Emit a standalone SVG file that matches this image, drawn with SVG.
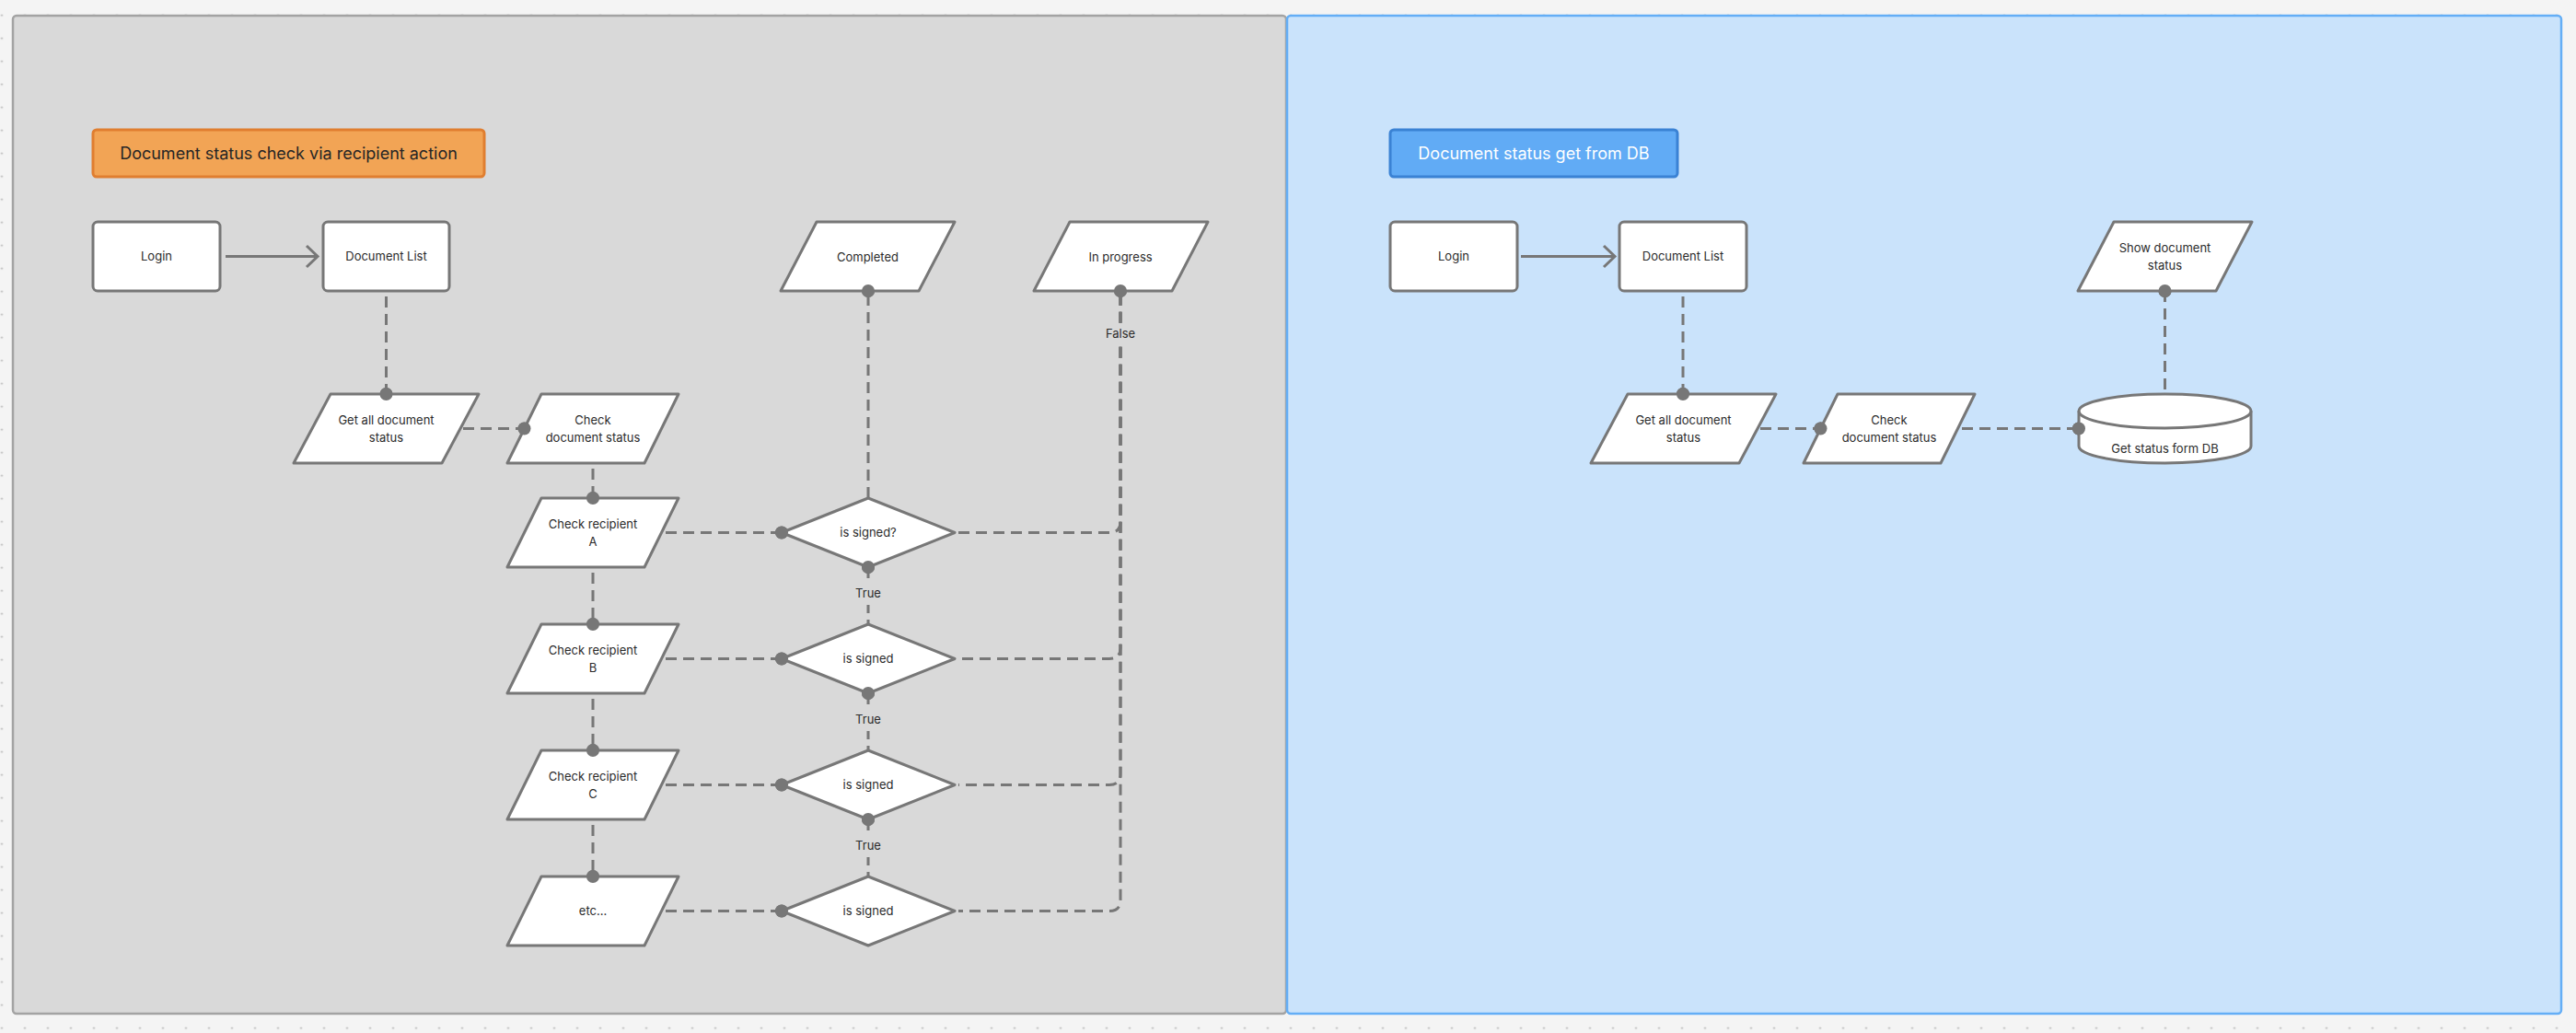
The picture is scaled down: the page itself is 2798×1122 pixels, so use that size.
<svg xmlns="http://www.w3.org/2000/svg" width="2798" height="1122" viewBox="0 0 2798 1122">
<defs>
<pattern id="grid" patternUnits="userSpaceOnUse" x="-10.5" y="4.2" width="25" height="25"><circle cx="12.5" cy="12.5" r="1.1" fill="#b4b4b4"/></pattern>
<style>
.node{fill:#fff;stroke:#777;stroke-width:3;stroke-linejoin:round}
.t{font-family:Inter,"Noto Sans","Liberation Sans",sans-serif;font-size:13px;fill:#2b2b2b;text-anchor:middle}
.c{fill:none;stroke:#777;stroke-width:3}
.d{stroke-dasharray:12 7}
.dot{fill:#777}
.lbl{fill:#d9d9d9}
.title{font-family:Inter,"Noto Sans","Liberation Sans",sans-serif;font-size:18px;text-anchor:middle}
</style>
</defs>
<rect width="2798" height="1122" fill="#f4f4f4"/>
<rect width="2798" height="1122" fill="url(#grid)"/>
<g id="frame-left"><rect x="14" y="17" width="1383" height="1084" rx="4" fill="#d9d9d9" stroke="#a3a3a3" stroke-width="2.5"/></g>
<g id="frame-right"><rect x="1398" y="17" width="1384" height="1084" rx="4" fill="#cae3fb" stroke="#64aef6" stroke-width="2.5"/></g>

<g id="title-left"><rect x="101" y="141" width="425" height="51" rx="4" fill="#f2a455" stroke="#e07e30" stroke-width="3"/><text class="title" x="313.5" y="172.5" fill="#262626">Document status check via recipient action</text></g>
<g id="title-right"><rect x="1510" y="141" width="312" height="51" rx="4" fill="#61abf5" stroke="#3a82d4" stroke-width="3"/><text class="title" x="1666" y="172.5" fill="#ffffff">Document status get from DB</text></g>

<g id="connectors">
<path class="c" d="M245 278.5 H344"/><path class="c" d="M333 267 L345 278.5 L333 290"/>
<path class="c d" d="M419.5 322 V428"/><circle class="dot" cx="419.5" cy="428" r="7"/>
<path class="c d" d="M503 465.5 H569.5"/><circle class="dot" cx="569.5" cy="465.5" r="7"/>
<path class="c d" d="M644 509 V541"/><circle class="dot" cx="644" cy="541" r="7"/>
<path class="c d" d="M644 622 V678"/><circle class="dot" cx="644" cy="678" r="7"/>
<path class="c d" d="M644 759 V815"/><circle class="dot" cx="644" cy="815" r="7"/>
<path class="c d" d="M644 896 V952"/><circle class="dot" cx="644" cy="952" r="7"/>
<path class="c d" d="M723 578.5 H849"/><circle class="dot" cx="849" cy="578.5" r="7"/>
<path class="c d" d="M723 715.5 H849"/><circle class="dot" cx="849" cy="715.5" r="7"/>
<path class="c d" d="M723 852.5 H849"/><circle class="dot" cx="849" cy="852.5" r="7"/>
<path class="c d" d="M723 989.5 H849"/><circle class="dot" cx="849" cy="989.5" r="7"/>
<path class="c d" d="M943 541 V316"/><circle class="dot" cx="943" cy="316" r="7"/>
<path class="c d" d="M943 616 V678"/><circle class="dot" cx="943" cy="616" r="7"/>
<path class="c d" d="M943 753 V815"/><circle class="dot" cx="943" cy="753" r="7"/>
<path class="c d" d="M943 890 V952"/><circle class="dot" cx="943" cy="890" r="7"/>
<path class="c d" d="M1041 578.5 H1205 Q1217 578.5 1217 566.5 V316" stroke-dashoffset="0"/>
<path class="c d" d="M1041 715.5 H1205 Q1217 715.5 1217 703.5 V316" stroke-dashoffset="15"/>
<path class="c d" d="M1041 852.5 H1205 Q1217 852.5 1217 840.5 V316" stroke-dashoffset="11"/>
<path class="c d" d="M1041 989.5 H1205 Q1217 989.5 1217 977.5 V316" stroke-dashoffset="7"/>
<circle class="dot" cx="1217" cy="316" r="7"/>
<rect class="lbl" x="1198" y="352" width="38" height="21"/><text class="t" x="1217" y="367">False</text>
<rect class="lbl" x="925" y="631" width="36" height="26"/><text class="t" x="943" y="649">True</text>
<rect class="lbl" x="925" y="768" width="36" height="26"/><text class="t" x="943" y="786">True</text>
<rect class="lbl" x="925" y="905" width="36" height="26"/><text class="t" x="943" y="923">True</text>

<path class="c" d="M1652 278.5 H1753"/><path class="c" d="M1742 267 L1754 278.5 L1742 290"/>
<path class="c d" d="M1828 322 V428"/><circle class="dot" cx="1828" cy="428" r="7"/>
<path class="c d" d="M1912 465.5 H1977.5"/><circle class="dot" cx="1977.5" cy="465.5" r="7"/>
<path class="c d" d="M2131 465.5 H2258"/><circle class="dot" cx="2258" cy="465.5" r="7"/>
<path class="c d" d="M2351.5 423 V316"/><circle class="dot" cx="2351.5" cy="316" r="7"/>
</g>

<g id="login"><rect class="node" x="101" y="241" width="138" height="75" rx="5"/><text class="t" x="170" y="283">Login</text></g>
<g id="doclist"><rect class="node" x="351" y="241" width="137" height="75" rx="5"/><text class="t" x="419.5" y="283">Document List</text></g>
<g id="getall"><polygon class="node" points="359,428 520,428 480,503 319,503"/><text class="t" x="419.5" y="461">Get all document</text><text class="t" x="419.5" y="480">status</text></g>
<g id="checkdoc"><polygon class="node" points="588,428 737,428 700,503 551,503"/><text class="t" x="644" y="461">Check</text><text class="t" x="644" y="480">document status</text></g>
<g id="recA"><polygon class="node" points="588,541 737,541 700,616 551,616"/><text class="t" x="644" y="574">Check recipient</text><text class="t" x="644" y="593">A</text></g>
<g id="recB"><polygon class="node" points="588,678 737,678 700,753 551,753"/><text class="t" x="644" y="711">Check recipient</text><text class="t" x="644" y="730">B</text></g>
<g id="recC"><polygon class="node" points="588,815 737,815 700,890 551,890"/><text class="t" x="644" y="848">Check recipient</text><text class="t" x="644" y="867">C</text></g>
<g id="etc"><polygon class="node" points="588,952 737,952 700,1027 551,1027"/><text class="t" x="644" y="994">etc...</text></g>
<g id="completed"><polygon class="node" points="887,241 1037,241 998,316 848,316"/><text class="t" x="942.5" y="283.5">Completed</text></g>
<g id="inprogress"><polygon class="node" points="1162,241 1312,241 1273,316 1123,316"/><text class="t" x="1217" y="283.5">In progress</text></g>
<g id="dia1"><polygon class="node" points="943,541 1037,578.5 943,616 849,578.5"/><text class="t" x="943" y="583">is signed?</text></g>
<g id="dia2"><polygon class="node" points="943,678 1037,715.5 943,753 849,715.5"/><text class="t" x="943" y="720">is signed</text></g>
<g id="dia3"><polygon class="node" points="943,815 1037,852.5 943,890 849,852.5"/><text class="t" x="943" y="857">is signed</text></g>
<g id="dia4"><polygon class="node" points="943,952 1037,989.5 943,1027 849,989.5"/><text class="t" x="943" y="994">is signed</text></g>
<g id="dotsfront">
<circle class="dot" cx="419.5" cy="428" r="7"/><circle class="dot" cx="569.5" cy="465.5" r="7"/>
<circle class="dot" cx="644" cy="541" r="7"/><circle class="dot" cx="644" cy="678" r="7"/><circle class="dot" cx="644" cy="815" r="7"/><circle class="dot" cx="644" cy="952" r="7"/>
<circle class="dot" cx="849" cy="578.5" r="7"/><circle class="dot" cx="849" cy="715.5" r="7"/><circle class="dot" cx="849" cy="852.5" r="7"/><circle class="dot" cx="849" cy="989.5" r="7"/>
<circle class="dot" cx="943" cy="316" r="7"/><circle class="dot" cx="943" cy="616" r="7"/><circle class="dot" cx="943" cy="753" r="7"/><circle class="dot" cx="943" cy="890" r="7"/><circle class="dot" cx="1217" cy="316" r="7"/>
<circle class="dot" cx="1828" cy="428" r="7"/><circle class="dot" cx="1977.5" cy="465.5" r="7"/><circle class="dot" cx="2258" cy="465.5" r="7"/><circle class="dot" cx="2351.5" cy="316" r="7"/>
</g>

<g id="login2"><rect class="node" x="1510" y="241" width="138" height="75" rx="5"/><text class="t" x="1579" y="283">Login</text></g>
<g id="doclist2"><rect class="node" x="1759" y="241" width="138" height="75" rx="5"/><text class="t" x="1828" y="283">Document List</text></g>
<g id="getall2"><polygon class="node" points="1768,428 1929,428 1889,503 1728,503"/><text class="t" x="1828.5" y="461">Get all document</text><text class="t" x="1828.5" y="480">status</text></g>
<g id="checkdoc2"><polygon class="node" points="1996,428 2145,428 2108,503 1959,503"/><text class="t" x="2052" y="461">Check</text><text class="t" x="2052" y="480">document status</text></g>
<g id="db"><path class="node" d="M2258 446.5 A93.5 18.5 0 0 1 2445 446.5 V484.5 A93.5 18.5 0 0 1 2258 484.5 Z"/><path class="c" d="M2258 446.5 A93.5 18.5 0 0 0 2445 446.5"/><text class="t" x="2351.5" y="492">Get status form DB</text></g>
<g id="show"><polygon class="node" points="2296,241 2446,241 2407,316 2257,316"/><text class="t" x="2351.5" y="274">Show document</text><text class="t" x="2351.5" y="293">status</text></g>
<g id="dotsfront2">
<circle class="dot" cx="1828" cy="428" r="7"/><circle class="dot" cx="1977.5" cy="465.5" r="7"/><circle class="dot" cx="2258" cy="465.5" r="7"/><circle class="dot" cx="2351.5" cy="316" r="7"/>
</g>
</svg>
